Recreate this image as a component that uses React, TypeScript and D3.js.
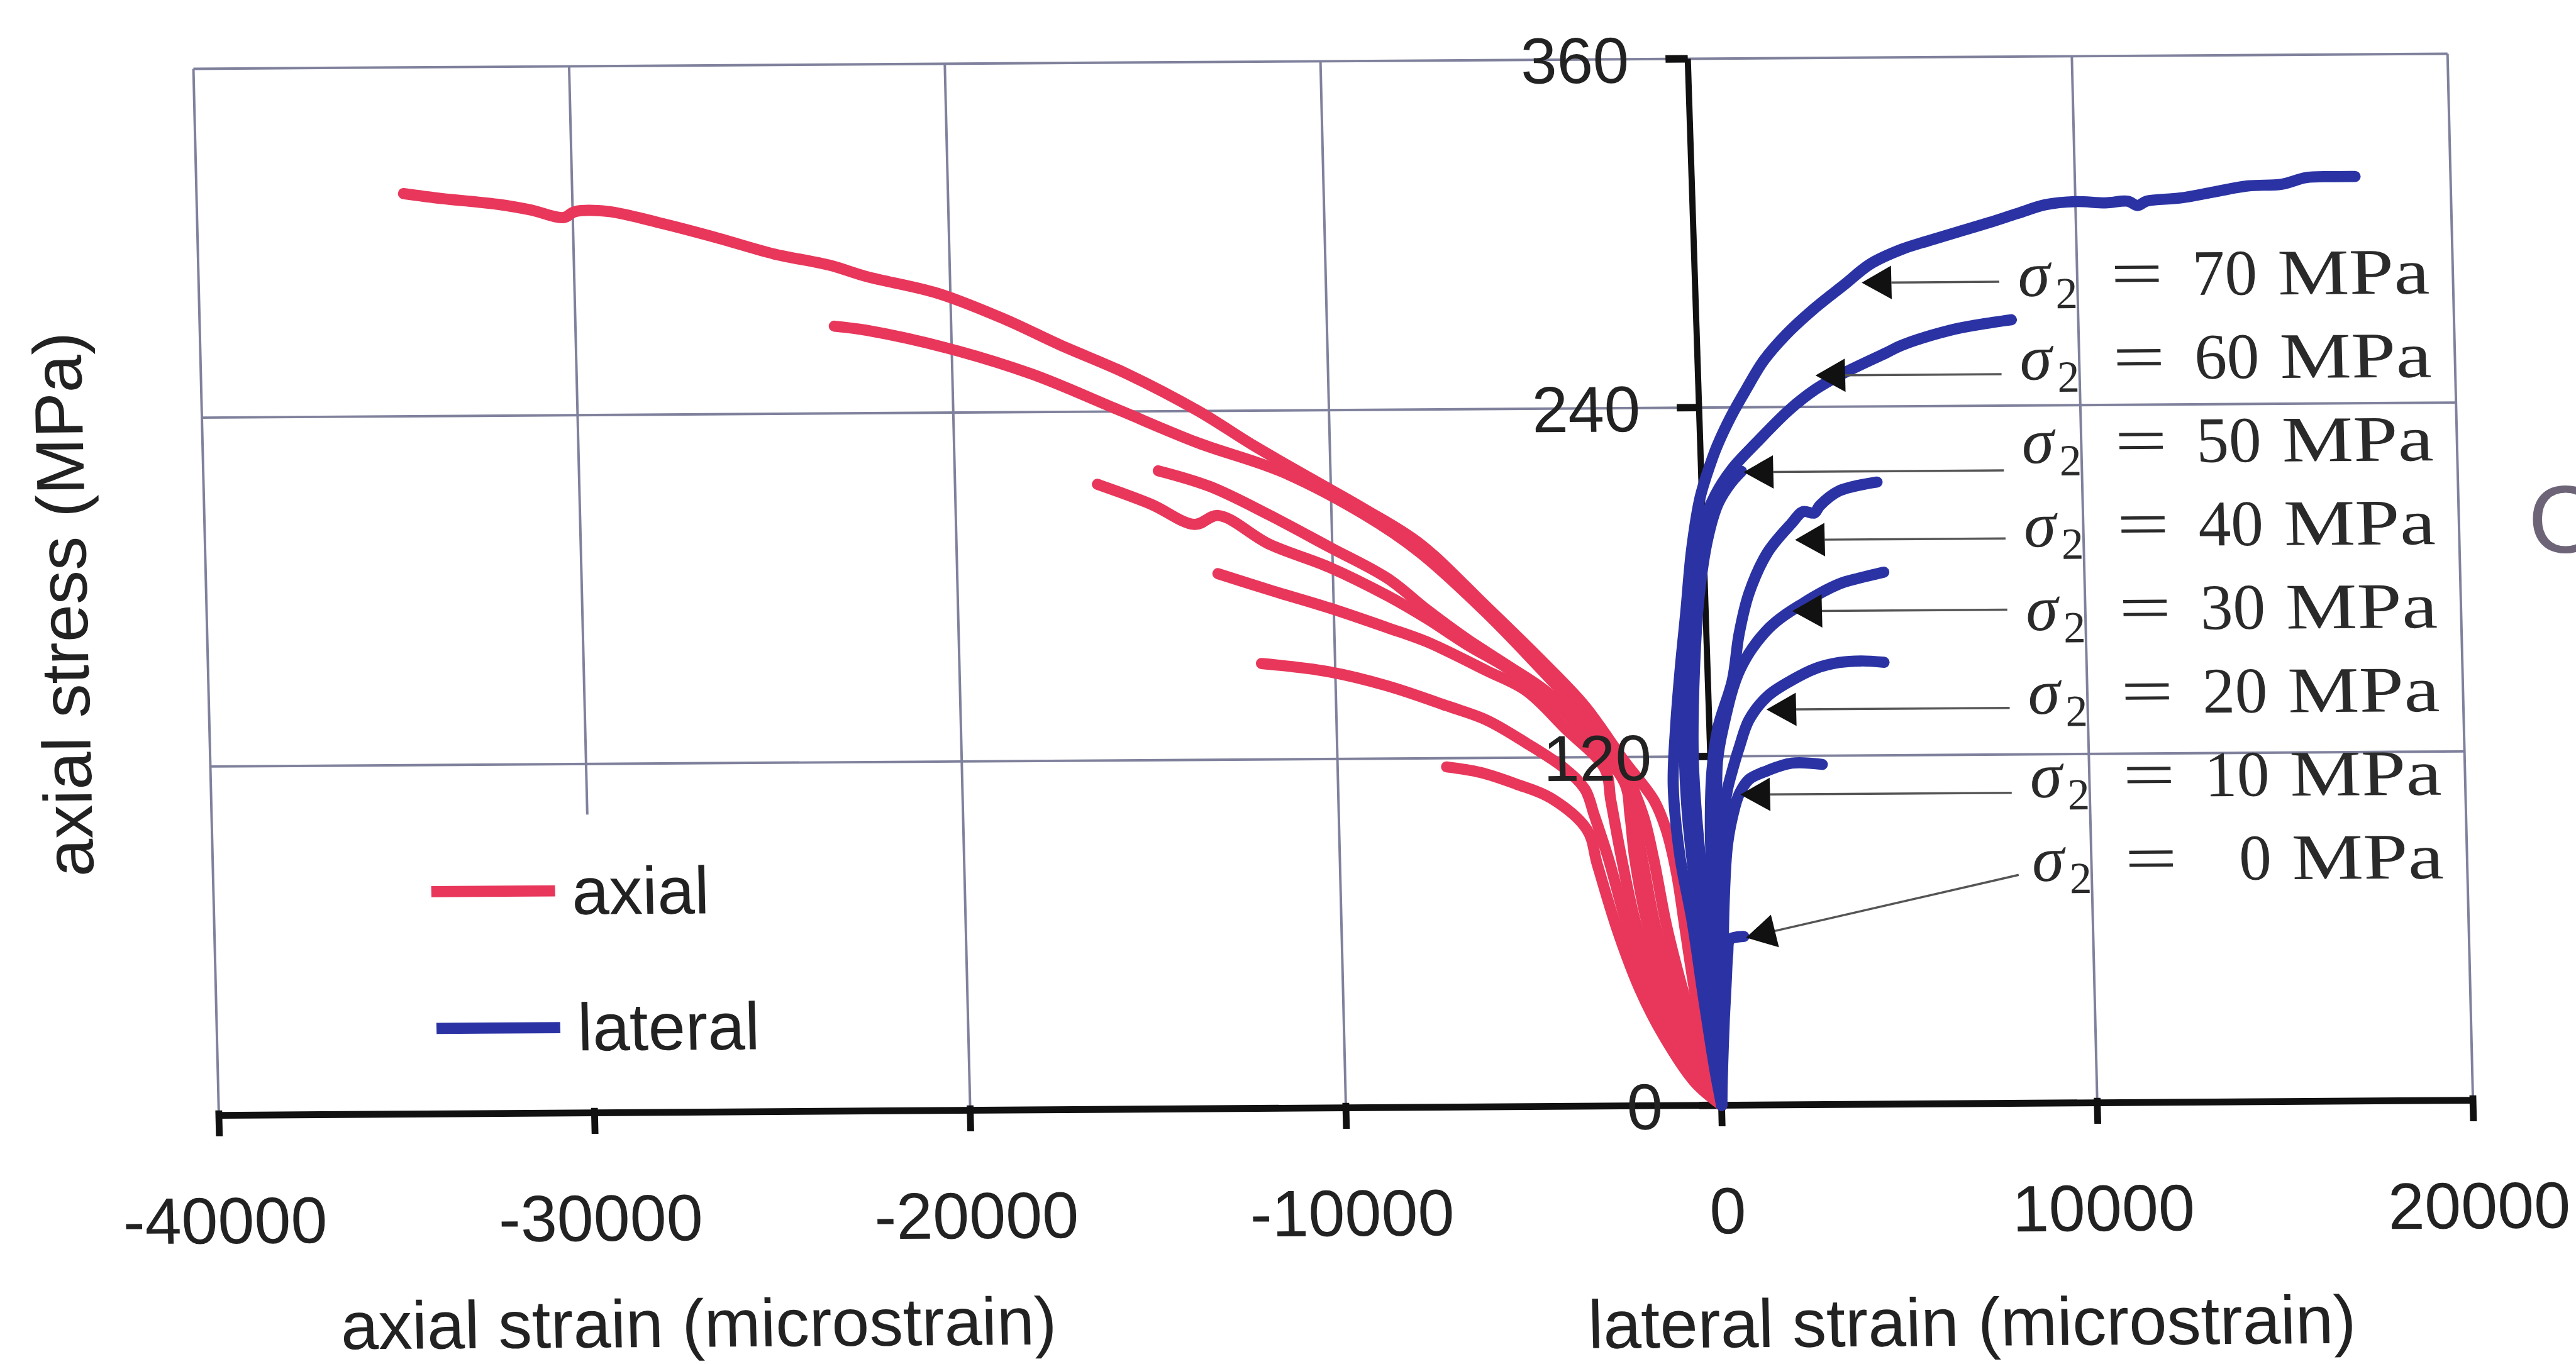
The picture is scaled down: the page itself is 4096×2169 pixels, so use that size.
import React from 'react';
import * as d3 from 'd3';

// Confining stress of each test (MPa)
const confiningStresses = [0, 10, 20, 30, 40, 50, 60, 70];

// Axial strain (microstrain, compression negative) vs axial stress (MPa)
const axial0 = [[0, 0], [-150, 15], [-300, 35], [-420, 50], [-480, 60]];
const axial10 = [[0, 0], [-700, 8], [-1500, 24], [-2100, 40], [-2650, 60], [-3150, 83], [-3400, 95], [-4340, 106], [-5270, 111], [-6200, 115], [-7100, 117]];
const axial20 = [[0, 0], [-500, 8], [-1300, 25], [-1900, 42], [-2400, 62], [-2850, 85], [-3200, 100], [-3430, 109], [-3940, 116], [-4960, 125], [-6000, 133], [-7050, 138], [-8620, 145], [-10170, 150], [-11960, 153]];
const axial30 = [[0, 0], [-420, 8], [-1100, 25], [-1650, 42], [-2150, 62], [-2500, 85], [-2750, 105], [-2890, 116], [-3920, 130], [-4930, 143], [-5970, 150], [-7530, 160], [-8580, 165], [-10130, 172], [-11630, 178], [-13060, 184]];
const axial40 = [[0, 0], [-350, 8], [-900, 25], [-1400, 42], [-1850, 62], [-2150, 85], [-2250, 100], [-2370, 111], [-3390, 128], [-4420, 141.5], [-5440, 151], [-6480, 159], [-7520, 168], [-8560, 176], [-10100, 186], [-11670, 194], [-13010, 204], [-13650, 201], [-14790, 208], [-16210, 215]];
const axial50 = [[0, 0], [-300, 8], [-800, 25], [-1250, 42], [-1650, 62], [-1950, 85], [-2150, 100], [-2360, 115], [-3390, 130], [-4420, 143], [-5440, 152], [-6480, 161], [-7510, 171], [-8550, 182], [-10090, 193], [-11650, 204], [-13220, 214], [-14580, 219.5]];
const axial60 = [[0, 0], [-250, 8], [-650, 25], [-1000, 42], [-1350, 62], [-1650, 85], [-1900, 100], [-2400, 116], [-3400, 134], [-4430, 149], [-5950, 170], [-7690, 191], [-9130, 204], [-11310, 219], [-13500, 229], [-15680, 241], [-17870, 253], [-20060, 262], [-22250, 268.5], [-23110, 270]];
const axial70 = [[0, 0], [-180, 8], [-580, 34], [-850, 60], [-1050, 80], [-1300, 95], [-1600, 105], [-2360, 118.5], [-3380, 137.6], [-4400, 152], [-5930, 172], [-7680, 194], [-9130, 206], [-10590, 217], [-12030, 228], [-13480, 240], [-15360, 253], [-17110, 263], [-18570, 272], [-20320, 281], [-22220, 287], [-23200, 291], [-24670, 295], [-26130, 300.5], [-27590, 305.6], [-29060, 310], [-29940, 310], [-30240, 308], [-31120, 310.7], [-31990, 312.7], [-33470, 314.8], [-34490, 316.6]];

// Lateral strain (microstrain) vs axial stress (MPa)
const lateral0 = [[0, 0], [60, 15], [130, 30], [200, 42], [260, 52], [330, 57], [700, 58]];
const lateral10 = [[0, 0], [60, 20], [120, 45], [200, 70], [330, 90], [545, 102.5], [670, 107], [940, 112], [1440, 115], [2090, 117.5], [2900, 117]];
const lateral20 = [[0, 0], [40, 20], [80, 45], [120, 70], [200, 95], [350, 108], [500, 115], [700, 123], [980, 132.5], [1490, 140.6], [2140, 146], [2780, 150], [3410, 152], [4000, 152.5], [4610, 152]];
const lateral30 = [[0, 0], [20, 20], [30, 45], [40, 70], [60, 95], [110, 118], [290, 130], [780, 150], [1570, 164], [2500, 172.5], [3460, 179], [4000, 181], [4660, 183]];
const lateral40 = [[0, 0], [-20, 20], [-60, 45], [-100, 70], [-120, 95], [-40, 115], [150, 130], [560, 146], [770, 162], [1060, 176], [1580, 190], [2240, 200], [2550, 204], [2850, 203.5], [3000, 206], [3520, 211], [4540, 214]];
const lateral50 = [[0, 0], [-60, 15], [-170, 40], [-320, 70], [-480, 100], [-530, 120], [-440, 150], [-270, 175], [0, 195], [300, 207], [650, 214], [940, 218]];
const lateral60 = [[0, 0], [-90, 10], [-200, 25], [-370, 50], [-560, 75], [-720, 100], [-760, 120], [-680, 140], [-500, 162], [-310, 181], [-100, 200], [230, 210], [700, 219], [1370, 228], [2250, 239], [2960, 246], [3640, 251], [4880, 258.5], [5290, 261], [6570, 266], [7400, 268], [8220, 269.5]];
const lateral70 = [[0, 0], [-130, 10], [-240, 20], [-440, 40], [-660, 63], [-950, 86], [-1080, 110], [-980, 130], [-820, 150], [-630, 170], [-440, 191], [-180, 209], [100, 220], [315, 227], [700, 237], [1110, 246], [1600, 256], [2220, 265], [3000, 274], [3800, 282], [4500, 289], [5350, 294], [6100, 297], [6900, 300], [7700, 303], [8440, 306], [9200, 309], [10000, 310], [10800, 309.5], [11400, 310], [11650, 308.5], [11900, 310], [12800, 311], [13700, 313], [14600, 315], [15500, 315.5], [16150, 317.7], [16800, 318], [17460, 318]];

const axialCurves = [axial0, axial10, axial20, axial30, axial40, axial50, axial60, axial70];
const lateralCurves = [lateral0, lateral10, lateral20, lateral30, lateral40, lateral50, lateral60, lateral70];

// Point on each lateral curve that its label arrow touches (strain, stress)
const arrowTips = [[760, 57.6], [700, 106.8], [1450, 136], [2200, 169.8], [2320, 194.3], [995, 217.7], [2970, 250.8], [4260, 282.6]];

const xTicks = [-40000, -30000, -20000, -10000, 0, 10000, 20000];
const yTicks = [0, 120, 240, 360];

const RED = '#e8375b';
const BLUE = '#2b33a4';
const GRID = '#7f819c';
const SANS = "'Liberation Sans', Arial, sans-serif";
const SERIF = "'Liberation Serif', 'Times New Roman', serif";
const CURVE_W = 18;

export default function App() {
  const W = 4162;
  const H = 2204;
  const x = d3.scaleLinear().domain([-40000, 20000]).range([333, 3975]);
  const y = d3.scaleLinear().domain([0, 360]).range([1790, 99]);
  const line = d3
    .line<number[]>()
    .x((d) => x(d[0]))
    .y((d) => y(d[1]))
    .curve(d3.curveCatmullRom.alpha(0.5));

  // slight shear/rotation of the whole figure
  const sheet = `matrix(1,-0.0067,0.0243,1,${-0.0243 * 944},${0.0067 * 2154})`;

  const x0 = x(0);
  const yBase = y(0);
  const labelX = 3272;
  // the vertical axis leans a little more than the grid
  const axisLean = `matrix(1,0,0.008,1,${-0.008 * yBase},0)`;

  const labels = confiningStresses
    .map((s, k) => ({ s, k, row: confiningStresses.length - 1 - k }))
    .sort((a, b) => a.row - b.row);

  return (
    <svg
      width={4096}
      height={2169}
      viewBox={`0 0 ${W} ${H}`}
      style={{ position: 'absolute', left: 0, top: 0, display: 'block', background: '#fff' }}
    >
      <rect x={0} y={0} width={W} height={H} fill="#fff" />
      <g transform={sheet}>
        {/* grid */}
        {yTicks
          .filter((t) => t > 0)
          .map((t) => (
            <line key={`gy${t}`} x1={x(-40000)} x2={x(20000)} y1={y(t)} y2={y(t)} stroke={GRID} strokeWidth={4} />
          ))}
        {xTicks
          .filter((t) => t !== 0)
          .map((t) => (
            <line key={`gx${t}`} x1={x(t)} x2={x(t)} y1={y(0)} y2={y(360)} stroke={GRID} strokeWidth={4} />
          ))}

        {/* legend background */}
        <rect x={x(-40000) + 6} y={1308} width={1070} height={yBase - 1308 - 6} fill="#fff" />

        {/* axes */}
        <g transform={axisLean}>
          <line x1={x0} x2={x0} y1={yBase} y2={y(360)} stroke="#111" strokeWidth={10} />
          {yTicks.map((t) => (
            <line key={`ty${t}`} x1={x0 - 36} x2={x0} y1={y(t)} y2={y(t)} stroke="#111" strokeWidth={12} />
          ))}
        </g>
        <line x1={x(-40000)} x2={x(20000)} y1={yBase} y2={yBase} stroke="#111" strokeWidth={11} />
        {xTicks.map((t) => (
          <line key={`tx${t}`} x1={x(t)} x2={x(t)} y1={yBase - 8} y2={yBase + 34} stroke="#111" strokeWidth={11} />
        ))}

        {/* axial strain curves */}
        {axialCurves.map((c, i) => (
          <path key={`a${i}`} d={line(c) || ''} fill="none" stroke={RED} strokeWidth={CURVE_W} strokeLinejoin="round" strokeLinecap="round" />
        ))}
        {/* lateral strain curves */}
        {lateralCurves.map((c, i) => (
          <path key={`l${i}`} d={line(c) || ''} fill="none" stroke={BLUE} strokeWidth={CURVE_W} strokeLinejoin="round" strokeLinecap="round" />
        ))}

        {/* tick labels */}
        {yTicks.map((t) => (
          <text key={`ly${t}`} x={x0 - 95 + 0.008 * (y(t) - yBase)} y={y(t) + 38} textAnchor="end" fontFamily={SANS} fontSize={105} fill="#222">
            {t}
          </text>
        ))}
        {xTicks.map((t) => (
          <text key={`lx${t}`} x={x(t) + 6} y={1997} textAnchor="middle" fontFamily={SANS} fontSize={106} fill="#222">
            {t}
          </text>
        ))}

        {/* legend */}
        <line x1={685} x2={885} y1={1431} y2={1431} stroke={RED} strokeWidth={CURVE_W} />
        <text x={912} y={1469} fontFamily={SANS} fontSize={108} fill="#222">axial</text>
        <line x1={688} x2={888} y1={1652} y2={1652} stroke={BLUE} strokeWidth={CURVE_W} />
        <text x={916} y={1689} fontFamily={SANS} fontSize={108} fill="#222">lateral</text>

        {/* confining stress labels with arrows */}
        {labels.map(({ s, k, row }) => {
          const base = 486 + row * 135;
          const tip = arrowTips[k];
          const tx = x(tip[0]);
          const ty = y(tip[1]);
          const ex = s === 0 ? labelX - 22 : labelX - 30;
          const ey = s === 0 ? base - 10 : ty;
          const ang = Math.atan2(ey - ty, ex - tx);
          const len = 48;
          const hw = 27;
          const bx = tx + len * Math.cos(ang);
          const by = ty + len * Math.sin(ang);
          const px = -Math.sin(ang) * hw;
          const py = Math.cos(ang) * hw;
          return (
            <g key={`lab${s}`}>
              <line x1={bx} y1={by} x2={ex} y2={ey} stroke="#555" strokeWidth={3.5} />
              <polygon points={`${tx},${ty} ${bx + px},${by + py} ${bx - px},${by - py}`} fill="#111" />
              <text x={labelX} y={base} fontFamily={SERIF} fontSize={105} fontStyle="italic" fill="#2a2a2a">σ</text>
              <text x={labelX + 60} y={base + 20} fontFamily={SERIF} fontSize={72} fill="#2a2a2a">2</text>
              <text x={labelX + 150} y={base} fontFamily={SERIF} fontSize={105} fill="#2a2a2a" textLength={85} lengthAdjust="spacingAndGlyphs">=</text>
              <text x={labelX + 387} y={base} fontFamily={SERIF} fontSize={105} fill="#2a2a2a" textAnchor="end">{s}</text>
              <text x={labelX + 420} y={base} fontFamily={SERIF} fontSize={105} fill="#2a2a2a" textLength={245} lengthAdjust="spacingAndGlyphs">MPa</text>
            </g>
          );
        })}

        {/* axis titles */}
        <text x={1100} y={2169} textAnchor="middle" fontFamily={SANS} fontSize={109} fill="#222">axial strain (microstrain)</text>
        <text x={3157} y={2181} textAnchor="middle" fontFamily={SANS} fontSize={110} fill="#222">lateral strain (microstrain)</text>
        <text transform="translate(140,963) rotate(-90)" textAnchor="middle" fontFamily={SANS} fontSize={110} fill="#222">axial stress (MPa)</text>
      </g>
      <text x={4085} y={893} fontFamily={SANS} fontSize={155} fill="#6e6478">O</text>
    </svg>
  );
}
